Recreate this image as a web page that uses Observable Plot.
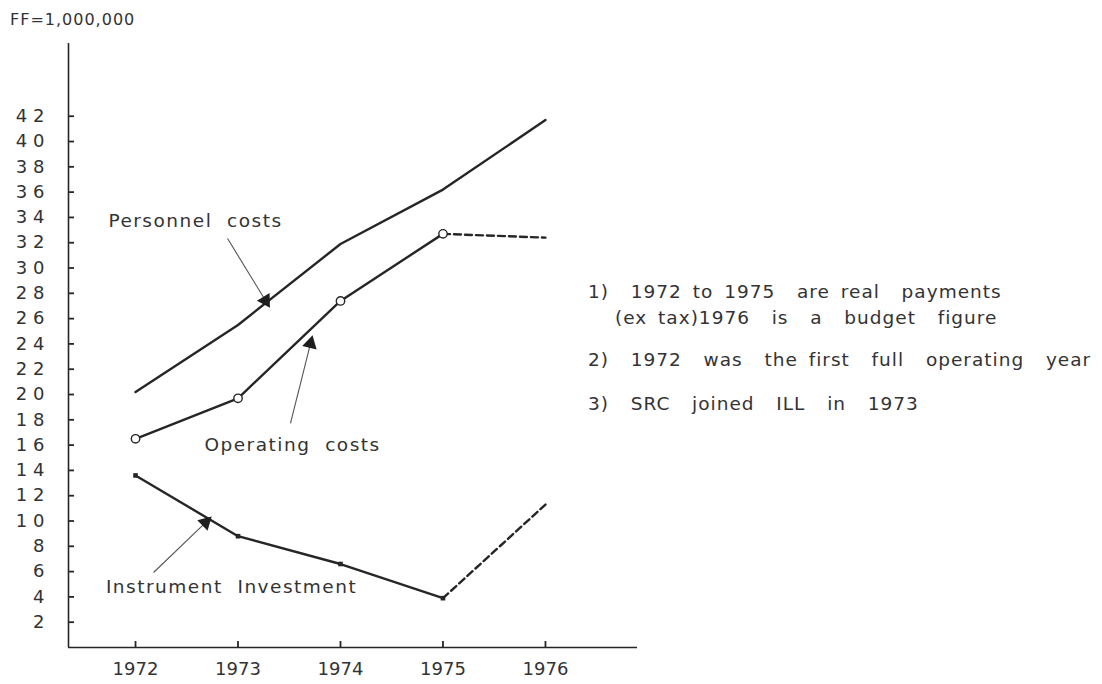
<!DOCTYPE html>
<html><head><meta charset="utf-8">
<script src="https://cdn.jsdelivr.net/npm/d3@7"></script>
<script src="https://cdn.jsdelivr.net/npm/@observablehq/plot@0.6"></script>
<style>
body{margin:0;background:#fff;}
#wrap{position:relative;width:1102px;height:684px;font-family:"DejaVu Sans",sans-serif;color:#333;}
.note{position:absolute;white-space:pre;font-size:18.5px;line-height:22px;letter-spacing:1.0px;word-spacing:4px;}
</style></head><body><div id="wrap"></div>
<script>
// ---- data ----
const years = [1972, 1973, 1974, 1975, 1976];
const personnel = [20.2, 25.5, 31.9, 36.2, 41.7];
const operating = [16.5, 19.7, 27.4, 32.7, 32.4];
const instrument = [13.6, 8.8, 6.6, 3.9, 11.3];
const yTicks = [2,4,6,8,10,12,14,16,18,20,22,24,26,28,30,32,34,36,38,40,42];
const unitLabel = "FF=1,000,000";
const seriesLabels = [
  {name: "Personnel  costs", x: 1972.585, y: 33.75},
  {name: "Operating  costs", x: 1973.532, y: 15.97},
  {name: "Instrument  Investment", x: 1972.937, y: 4.74}
];
const arrows = [
  {x1: 1972.898, y1: 32.33, x2: 1973.268, y2: 27.43},
  {x1: 1973.512, y1: 17.71, x2: 1973.707, y2: 24.03},
  {x1: 1972.176, y1: 5.93, x2: 1972.683, y2: 9.88}
];
const notes = [
  "1)  1972 to 1975  are real  payments",
  "(ex tax)1976  is  a  budget  figure",
  "2)  1972  was  the first  full  operating  year",
  "3)  SRC  joined  ILL  in  1973"
];

// ---- build rows ----
const series = [["personnel", personnel], ["operating", operating], ["instrument", instrument]];
const solid = [], dashed = [];
for (const [name, vals] of series) {
  years.forEach((yr, i) => {
    const row = {series: name, year: yr, value: vals[i]};
    if (name === "personnel" || yr <= 1975) solid.push(row);
    if (name !== "personnel" && yr >= 1975) dashed.push(row);
  });
}
const opPts = years.slice(0, 4).map((yr, i) => ({year: yr, value: operating[i]}));
const inPts = years.slice(0, 4).map((yr, i) => ({year: yr, value: instrument[i]}));

// ---- layout ----
const W = 1102, H = 684, mL = 68, mR = 465, mT = 43, mB = 37;
const xDomain = [1971.346, 1976.898], yDomain = [0, 47.75];
const xs = d3.scaleLinear(xDomain, [mL, W - mR]);
const ys = d3.scaleLinear(yDomain, [H - mB, mT]);
const angle = d => {
  const dx = xs(d.x2) - xs(d.x1), dy = ys(d.y2) - ys(d.y1);
  return Math.atan2(dx, -dy) * 180 / Math.PI;
};
const ink = "#262626";

const plot = Plot.plot({
  width: W, height: H,
  marginLeft: mL, marginRight: mR, marginTop: mT, marginBottom: mB,
  style: {fontFamily: '"DejaVu Sans", sans-serif', fontSize: "18px", color: "#333", background: "white"},
  x: {domain: xDomain, label: null},
  y: {domain: yDomain, label: null},
  marks: [
    Plot.ruleY([0], {stroke: ink, strokeWidth: 1.6}),
    Plot.ruleX([xDomain[0]], {stroke: ink, strokeWidth: 1.6}),
    Plot.axisY(yTicks, {tickSize: 0, tickPadding: 24, fontSize: 18, label: null,
      tickFormat: d => String(d).split("").join(" ")}),
    Plot.axisY(yTicks, {tickSize: 6, dx: 6, strokeWidth: 1.8, stroke: ink, label: null, tickFormat: () => ""}),
    Plot.axisX(years, {tickSize: 0, tickPadding: 15, fontSize: 18, label: null, tickFormat: d => String(d)}),
    Plot.axisX(years, {tickSize: 6, dy: -6, strokeWidth: 1.8, stroke: ink, label: null, tickFormat: () => ""}),
    Plot.line(solid, {x: "year", y: "value", z: "series", stroke: ink, strokeWidth: 2.4}),
    Plot.line(dashed, {x: "year", y: "value", z: "series", stroke: ink, strokeWidth: 2.4, strokeDasharray: "7,4"}),
    Plot.dot(opPts, {x: "year", y: "value", r: 4.2, fill: "white", stroke: ink, strokeWidth: 1.4}),
    Plot.dot(inPts, {x: "year", y: "value", symbol: "square", r: 2.6, fill: ink}),
    Plot.link(arrows, {x1: "x1", y1: "y1", x2: "x2", y2: "y2", stroke: "#555", strokeWidth: 1.1}),
    Plot.dot(arrows, {x: "x2", y: "y2", symbol: "triangle", r: 5.5, fill: "#1e1e1e", rotate: angle}),
    Plot.text(seriesLabels, {x: "x", y: "y", text: "name", fontSize: 18.5, fill: "#333"})
  ]
});
const wrap = document.getElementById("wrap");
wrap.appendChild(plot);
plot.querySelectorAll('g[aria-label="text"] text').forEach(t => t.style.letterSpacing = "1.5px");

const addDiv = (txt, left, centerY, size) => {
  const d = document.createElement("div");
  d.className = "note";
  d.textContent = txt;
  d.style.left = left + "px";
  d.style.top = (centerY - 11) + "px";
  if (size) d.style.fontSize = size + "px";
  wrap.appendChild(d);
};
addDiv(unitLabel, 10, 20, 16);
const noteLeft = [588, 615, 588, 588], noteY = [292, 318, 360, 404];
notes.forEach((t, i) => addDiv(t, noteLeft[i], noteY[i]));
</script></body></html>
